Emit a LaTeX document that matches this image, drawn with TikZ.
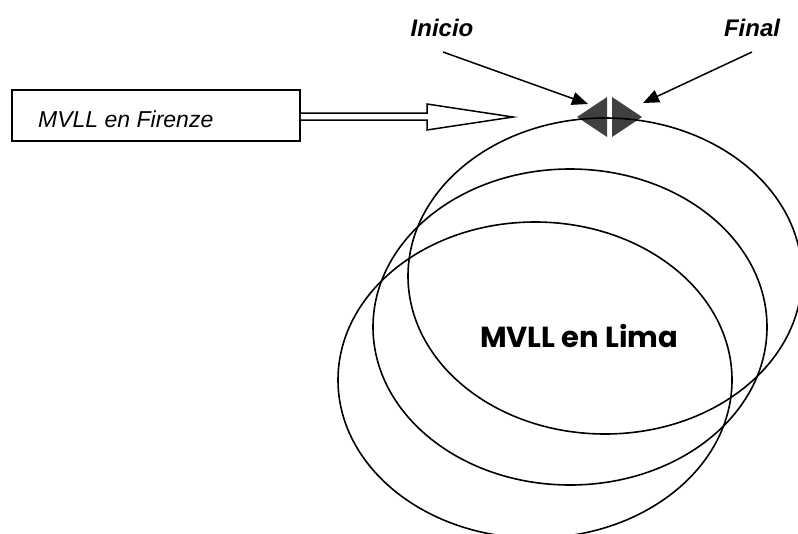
\documentclass[tikz,border=0pt]{standalone}
\usepackage{fontspec}
\setmainfont{Liberation Sans}
\newfontfamily\gothic{Poppins}
\usetikzlibrary{shapes.geometric,arrows.meta,calc}
\definecolor{tri}{HTML}{404040}
\tikzset{
  ring/.style={draw, ellipse, line width=1.6pt, inner sep=0pt, outer sep=0pt,
    minimum width=394pt, minimum height=316pt},
  marker/.style={fill=tri, draw=none},
  pointer/.style={line width=1.5pt, -{Triangle[length=16pt,width=13pt]}},
  tag/.style={font=\fontsize{24}{28}\selectfont\bfseries\itshape, inner sep=0pt},
  framebox/.style={draw, line width=1.5pt, minimum width=288pt, minimum height=51pt, inner sep=0pt},
}
\begin{document}
\begin{tikzpicture}[x=1pt,y=-1pt]
\useasboundingbox (0,0) rectangle (798,533);
% box
\node[framebox] (box) at (156,115.5) {};
\node[anchor=base west, inner sep=0pt, font=\fontsize{23}{26}\selectfont\itshape] (firenze) at (38,127) {MVLL en Firenze};
% hollow arrow
\coordinate (tip) at (513,117);
\draw[line width=1.5pt, fill=white, line join=miter]
  ($(box.east)+(0,-2.5)$) -- (427,113) -- (427,104) -- (tip) -- (427,130) -- (427,120) -- ($(box.east)+(0,4.5)$);
% markers
\path[marker] (577,117) -- (607,97) -- (607,137) -- cycle;
\path[marker] (642,117) -- (612,97) -- (612,137) -- cycle;
% ellipses
\node[ring] (e1) at (605,276) {};
\node[ring] (e2) at (570,327) {};
\node[ring] (e3) at (535,380) {};
\node[anchor=base, inner sep=0pt, font=\gothic\bfseries\fontsize{29}{32}\selectfont] (lima) at (579,347) {MVLL en Lima};
% labels and pointers
\node[tag] (inicio) at (442,28) {Inicio};
\node[tag] (final) at (752,28) {Final};
\coordinate (ia) at (443,52);
\coordinate (it) at (588,104);
\coordinate (fa) at (752,52);
\coordinate (ft) at (643,103);
\draw[pointer] (ia) -- (it);
\draw[pointer] (fa) -- (ft);
\end{tikzpicture}
\end{document}
